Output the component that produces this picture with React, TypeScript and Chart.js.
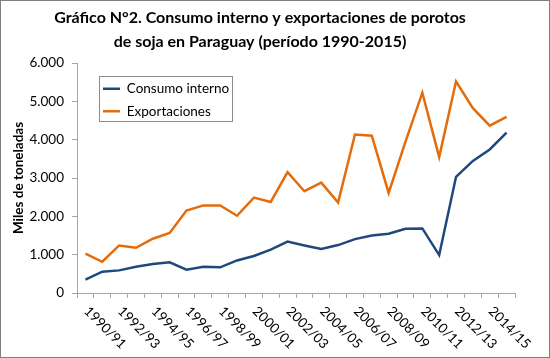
import React, { useEffect, useRef } from "react";
import { Chart, registerables } from "chart.js";

Chart.register(...registerables);

const categories = [
  "1990/91", "1991/92", "1992/93", "1993/94", "1994/95", "1995/96", "1996/97",
  "1997/98", "1998/99", "1999/00", "2000/01", "2001/02", "2002/03", "2003/04",
  "2004/05", "2005/06", "2006/07", "2007/08", "2008/09", "2009/10", "2010/11",
  "2011/12", "2012/13", "2013/14", "2014/15", "2015/16",
];

const consumoInterno = [
  350, 555, 590, 685, 755, 800, 610, 685, 670, 850, 965, 1130, 1340, 1240,
  1150, 1250, 1405, 1500, 1545, 1675, 1685, 990, 3030, 3445, 3745, 4185,
];

const exportaciones = [
  1030, 815, 1240, 1180, 1415, 1565, 2150, 2285, 2285, 2015, 2490, 2375, 3150,
  2655, 2880, 2360, 4135, 4105, 2610, 3950, 5225, 3545, 5515, 4820, 4365, 4595,
];

const titleLines = [
  "Gráfico N°2. Consumo interno y exportaciones de porotos",
  "de soja en Paraguay (período 1990-2015)",
];
const yTitle = "Miles de toneladas";
const seriesNames = ["Consumo interno", "Exportaciones"];

const FONT = "Lato, 'Open Sans', sans-serif";
const BLUE = "#1f497d";
const ORANGE = "#e46c0a";
const AXIS = "#a6a6a6";

const formatThousands = (v: number) =>
  String(v).replace(/\B(?=(\d{3})+(?!\d))/g, ".");

export default function App() {
  const ref = useRef<HTMLCanvasElement | null>(null);

  useEffect(() => {
    if (!ref.current) return;

    const decor = {
      id: "decor",
      afterLayout(chart: any) {
        const lg = chart.legend;
        if (lg) {
          const w = lg.width, h = lg.height;
          lg.left = 94;
          lg.top = 73;
          lg.right = lg.left + w;
          lg.bottom = lg.top + h;
        }
      },
      beforeDraw(chart: any) {
        const ctx = chart.ctx;
        ctx.save();
        ctx.fillStyle = "#ffffff";
        ctx.fillRect(0, 0, chart.width, chart.height);
        ctx.restore();
      },
      afterDraw(chart: any) {
        const ctx = chart.ctx;
        const xs = chart.scales.x;
        ctx.save();
        // outer frame
        ctx.strokeStyle = "#7f7f7f";
        ctx.lineWidth = 1;
        ctx.strokeRect(0.5, 0.5, chart.width - 1, chart.height - 1);
        // legend frame
        const lg = chart.legend;
        if (lg) {
          ctx.strokeStyle = "#8c8c8c";
          ctx.strokeRect(lg.left + 5.5, lg.top + 3.5, 133, 45);
        }
        // rotated x labels
        ctx.font = `13.5px ${FONT}`;
        ctx.fillStyle = "#000000";
        ctx.textAlign = "left";
        ctx.textBaseline = "middle";
        categories.forEach((c, i) => {
          if (i % 2 !== 0) return;
          const x = xs.getPixelForTick(i);
          ctx.save();
          ctx.translate(x + 1, xs.top + 16);
          ctx.rotate(Math.PI / 4);
          ctx.fillText(c, 0, 0);
          ctx.restore();
        });
        ctx.restore();
      },
    };

    const chart = new Chart(ref.current, {
      type: "line",
      data: {
        labels: categories,
        datasets: [
          {
            label: seriesNames[0],
            data: consumoInterno,
            borderColor: BLUE,
            backgroundColor: BLUE,
            borderWidth: 2.5,
            pointRadius: 0,
            tension: 0,
          },
          {
            label: seriesNames[1],
            data: exportaciones,
            borderColor: ORANGE,
            backgroundColor: ORANGE,
            borderWidth: 2.5,
            pointRadius: 0,
            tension: 0,
          },
        ],
      },
      options: {
        animation: false,
        responsive: false,
        maintainAspectRatio: false,
        devicePixelRatio: 1,
        layout: { padding: { left: 5, right: 35, top: 0, bottom: 0 } },
        plugins: {
          title: {
            display: true,
            text: titleLines,
            color: "#000000",
            font: { family: FONT, size: 16, weight: "bold", lineHeight: 1.5 },
            padding: { top: 6, bottom: 9 },
          },
          legend: {
            display: true,
            position: "chartArea" as any,
            align: "start",
            labels: {
              usePointStyle: true,
              pointStyle: "line",
              pointStyleWidth: 17,
              boxHeight: 13,
              padding: 9,
              color: "#000000",
              font: { family: FONT, size: 13.5 },
            },
          },
          tooltip: { enabled: false },
        },
        scales: {
          x: {
            type: "category",
            offset: true,
            grid: {
              offset: true,
              drawOnChartArea: false,
              drawTicks: true,
              tickLength: 5,
              color: AXIS,
            },
            border: { color: AXIS, width: 1 },
            ticks: { display: false, autoSkip: false },
            afterFit: (s: any) => {
              s.height = 65;
            },
          },
          y: {
            min: 0,
            max: 6000,
            grid: {
              drawOnChartArea: false,
              drawTicks: true,
              tickLength: 5,
              color: AXIS,
            },
            border: { color: AXIS, width: 1 },
            ticks: {
              stepSize: 1000,
              padding: 8,
              color: "#000000",
              font: { family: FONT, size: 13.5 },
              callback: (v: any) => formatThousands(Number(v)),
            },
            title: {
              display: true,
              text: yTitle,
              color: "#000000",
              font: { family: FONT, size: 13.5, weight: "bold" },
              padding: { top: 6, bottom: 0 },
            },
            afterFit: (s: any) => {
              s.width = 72;
            },
          },
        },
      },
      plugins: [decor],
    });

    return () => chart.destroy();
  }, []);

  return (
    <div style={{ position: "fixed", left: 0, top: 0, width: 550, height: 358 }}>
      <canvas ref={ref} width={550} height={358} style={{ width: 550, height: 358, display: "block" }} />
    </div>
  );
}
